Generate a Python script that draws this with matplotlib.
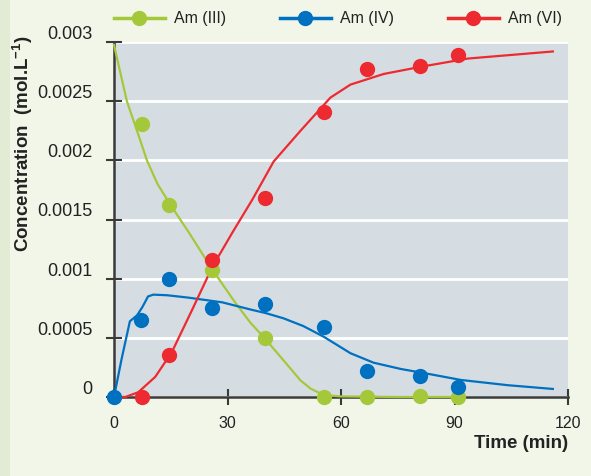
import matplotlib
matplotlib.use("Agg")
import matplotlib.pyplot as plt
import matplotlib.transforms as mtransforms
from matplotlib.lines import Line2D
from matplotlib.patches import Rectangle

# ==========================
# data (values in 1e-3 mol/L)
# ==========================
t_meas = [7.5, 14.5, 26, 40, 55.5, 67, 81, 91]
am3_meas = [2.31, 1.62, 1.07, 0.50, 0.0, 0.0, 0.01, 0.0]
am6_meas = [0.0, 0.355, 1.16, 1.68, 2.41, 2.77, 2.80, 2.89]

t_meas_am4 = [0, 7.2, 14.5, 26, 40, 55.5, 67, 81, 91]
am4_meas = [0.0, 0.65, 1.00, 0.75, 0.79, 0.59, 0.22, 0.18, 0.085]

# fitted curves
t_fit_am3 = [0, 3.4, 6.4, 8.7, 11.5, 14.8, 20, 26, 32, 36, 40, 44.8, 49.3, 52, 54.6, 57, 60, 75, 91]
am3_fit = [2.975, 2.5, 2.22, 2.0, 1.80, 1.63, 1.38, 1.076, 0.80, 0.63, 0.49, 0.31, 0.14, 0.07, 0.03, 0.012, 0.005, 0.0, 0.0]

t_fit_am4 = [0, 2, 4.2, 6.1, 7.5, 9, 10.4, 14, 19.6, 28.6, 36, 40, 44.8, 50, 55.4, 62.5, 68.6, 75.8, 84, 91.7, 104, 116]
am4_fit = [0.0, 0.32, 0.64, 0.69, 0.76, 0.85, 0.865, 0.86, 0.84, 0.80, 0.74, 0.71, 0.665, 0.60, 0.51, 0.37, 0.29, 0.237, 0.19, 0.144, 0.10, 0.068]

t_fit_am6 = [0, 3, 6.4, 10.9, 15.3, 20.7, 26, 31.3, 36.6, 42.2, 49.3, 57.2, 62.5, 71.3, 81, 93.5, 116]
am6_fit = [0.0, 0.0, 0.04, 0.17, 0.38, 0.74, 1.10, 1.39, 1.67, 1.99, 2.25, 2.53, 2.64, 2.73, 2.79, 2.86, 2.92]

labels = ["Am (III)", "Am (IV)", "Am (VI)"]
x_ticks = [0, 30, 60, 90, 120]
y_ticks = [0, 0.0005, 0.001, 0.0015, 0.002, 0.0025, 0.003]
y_ticklabels = ["0", "0.0005", "0.001", "0.0015", "0.002", "0.0025", "0.003"]

GREEN = "#a5c83b"
BLUE = "#0070c0"
RED = "#ed2a2f"

def scale(v):
    return [x * 1e-3 for x in v]

# ==========================
# figure
# ==========================
plt.rcParams["font.family"] = ["Liberation Sans", "DejaVu Sans"]
plt.rcParams["mathtext.default"] = "regular"

fig = plt.figure(figsize=(5.91, 4.76), dpi=100, facecolor="#f1f6e8")
fig.patches.append(Rectangle((0, 0), 10 / 591, 1, transform=fig.transFigure,
                             facecolor="#e2ecd5", edgecolor="none", zorder=0))

ax = fig.add_axes([114 / 591, 1 - 397 / 476, (568 - 114) / 591, (397 - 42) / 476])
ax.set_facecolor("#d5dde3")

ax.plot(t_fit_am3, scale(am3_fit), color=GREEN, lw=1.6, clip_on=False, zorder=3)
ax.plot(t_fit_am4, scale(am4_fit), color=BLUE, lw=1.6, clip_on=False, zorder=3)
ax.plot(t_fit_am6, scale(am6_fit), color=RED, lw=1.6, clip_on=False, zorder=3)

ax.plot(t_meas, scale(am3_meas), "o", color=GREEN, ms=10, clip_on=False, zorder=4)
ax.plot(t_meas_am4, scale(am4_meas), "o", color=BLUE, ms=10, clip_on=False, zorder=4)
ax.plot(t_meas, scale(am6_meas), "o", color=RED, ms=10, clip_on=False, zorder=4)

ax.set_xlim(0, 120)
ax.set_ylim(0, 0.003)
ax.set_xticks(x_ticks)
ax.set_yticks(y_ticks)
ax.set_yticklabels(y_ticklabels)

ax.yaxis.grid(True, color="white", lw=2)
ax.set_axisbelow(True)

for s in ["top", "right"]:
    ax.spines[s].set_visible(False)
for s in ["left", "bottom"]:
    ax.spines[s].set_color("#3a3a3a")
    ax.spines[s].set_linewidth(1.8)

ax.tick_params(direction="inout", length=11, width=1.5, color="#3a3a3a", labelcolor="#222222")
ax.tick_params(axis="y", labelsize=13, pad=10)
ax.tick_params(axis="x", labelsize=11.5, pad=8)

# y labels sit a bit above their ticks
offset = mtransforms.ScaledTranslation(0, 9.5 / 100, fig.dpi_scale_trans)
for lab in ax.get_yticklabels():
    lab.set_transform(lab.get_transform() + offset)

fig.text(23 / 591, 1 - 144 / 476, "Concentration  (mol.L$^{-1}$)", rotation=90,
         ha="center", va="center", fontsize=13.5, fontweight="bold", color="#222222")
fig.text(568 / 591, 1 - 443 / 476, "Time (min)", ha="right", va="center",
         fontsize=13.5, fontweight="bold", color="#222222")

# ==========================
# legend
# ==========================
handles = [Line2D([], [], color=c, lw=2.5, marker="o", ms=10) for c in [GREEN, BLUE, RED]]
fig.legend(handles, labels, ncol=3, loc="center", bbox_to_anchor=(338 / 591, 1 - 19 / 476),
           frameon=False, fontsize=11.4, handlelength=3.2, handletextpad=0.6,
           columnspacing=3.4, labelcolor="#222222")

plt.savefig("out.png", dpi=100, facecolor=fig.get_facecolor())
